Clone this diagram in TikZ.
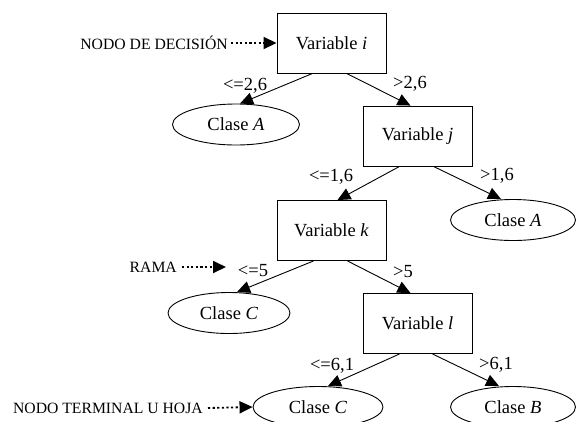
\documentclass[tikz,border=0pt]{standalone}
\usepackage{fontspec}
\setmainfont{Liberation Serif}
\usetikzlibrary{shapes.geometric,arrows.meta,calc}
\begin{document}
\begin{tikzpicture}[x=1pt,y=-1pt,
  varbox/.style={draw,line width=0.9pt,minimum width=109pt,minimum height=60pt,inner sep=0pt,font=\fontsize{18.5}{21}\selectfont},
  leaf/.style={draw,ellipse,line width=0.9pt,minimum width=127pt,minimum height=41pt,inner sep=0pt,font=\fontsize{18.5}{21}\selectfont},
  edge/.style={line width=0.9pt,-{Triangle[length=13pt,width=12pt]}},
  elabel/.style={font=\fontsize{18.5}{21}\selectfont,inner sep=0pt},
  side/.style={font=\fontsize{15.7}{18}\selectfont,inner sep=0pt},
  pointer/.style={line width=1.8pt,dash pattern=on 2.2pt off 2.4pt,-{Triangle[length=13pt,width=12pt]}}]
\useasboundingbox (0,0) rectangle (577,421);
% decision nodes
\node[varbox] (i) at (331.5,43) {Variable \textit{i}};
\node[varbox] (j) at (417.5,136) {Variable \textit{j}};
\node[varbox] (k) at (331.5,230.5) {Variable \textit{k}};
\node[varbox] (l) at (417.5,323.5) {Variable \textit{l}};
% leaves
\node[leaf] (A1) at (236,124.5) {Clase \textit{A}};
\node[leaf,minimum width=125pt] (A2) at (513,220) {Clase \textit{A}};
\node[leaf,minimum width=122pt] (C1) at (229,313) {Clase \textit{C}};
\node[leaf,minimum width=130pt] (C2) at (318,407) {Clase \textit{C}};
\node[leaf,minimum width=125pt] (B) at (513,407) {Clase \textit{B}};
% edges
\draw[edge] ($(i.south)+(-19,0)$) -- ($(A1.north)+(4,0)$);
\draw[edge] ($(i.south)+(15,0)$) -- ($(j.north)+(-7,0)$);
\draw[edge] ($(j.south)+(-18,0)$) -- ($(k.north)+(6,0)$);
\draw[edge] ($(j.south)+(16,0)$) -- ($(A2.north)+(-12,0)$);
\draw[edge] ($(k.south)+(-18,0)$) -- ($(C1.north)+(8,0)$);
\draw[edge] ($(k.south)+(16,0)$) -- ($(l.north)+(-7,0)$);
\draw[edge] ($(l.south)+(-18,0)$) -- ($(C2.north)+(10,0)$);
\draw[edge] ($(l.south)+(15,0)$) -- ($(B.north)+(-14,0)$);
% edge labels
\node[elabel] (e1) at (245,86) {<=2,6};
\node[elabel] (e2) at (410,84) {>2,6};
\node[elabel] (e3) at (331,177) {<=1,6};
\node[elabel] (e4) at (497,176) {>1,6};
\node[elabel] (e5) at (253,271) {<=5};
\node[elabel] (e6) at (403,272) {>5};
\node[elabel] (e7) at (332,366) {<=6,1};
\node[elabel] (e8) at (496,365) {>6,1};
% side annotations
\node[side,anchor=east] (nd) at (228,43) {NODO DE DECISIÓN};
\draw[pointer] ($(nd.east)+(3,0)$) -- (i.west);
\node[side,anchor=east] (rama) at (177,267) {RAMA};
\coordinate (ramaend) at (226,267);
\draw[pointer] ($(rama.east)+(5,0)$) -- (ramaend);
\node[side,anchor=east] (nt) at (203,408) {NODO TERMINAL U HOJA};
\draw[pointer] ($(nt.east)+(5,0)$) -- (C2.west);
\end{tikzpicture}
\end{document}
